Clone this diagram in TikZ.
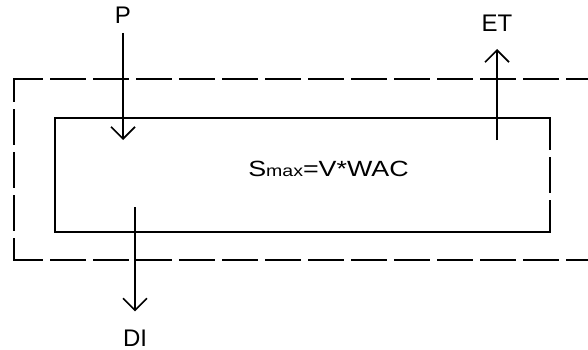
\documentclass[tikz,border=0pt]{standalone}
\usepackage{fontspec}
\setmainfont{Liberation Sans}
\usetikzlibrary{arrows.meta}
\begin{document}
\begin{tikzpicture}[x=1pt,y=-1pt,line width=2pt,
  flow/.style={-{Straight Barb[length=12pt,width=24pt,line width=1.7pt]},line width=1.7pt},
  lbl/.style={font=\fontsize{24}{28}\selectfont,inner sep=0pt,anchor=base},
  bdash/.style={dash pattern=on 34pt off 9pt,line cap=rect}]
\useasboundingbox (0,0) rectangle (588,350);
\clip (0,0) rectangle (588,350);
% outer dashed boundary (open on the right)
\draw[bdash,dash phase=6pt] (14,79) -- (600,79);
\draw[bdash,dash phase=12pt] (14,79) -- (14,260);
\draw[bdash,dash phase=6pt] (14,260) -- (600,260);
% inner store box
\draw[line join=miter] (55,118) rectangle (550,232);
\draw[white,line width=2.8pt] (550,150) -- (550,157);
\draw[white,line width=2.8pt] (550,193) -- (550,200);
% labels
\node[lbl] (P) at (123,24) {P};
\node[lbl] (ET) at (497,32) {ET};
\node[lbl] (DI) at (135,346) {DI};
\node[inner sep=0pt,anchor=base] (S) at (328.5,176)
  {\scalebox{1.22}[1]{\fontsize{22}{26}\selectfont S{\fontsize{16}{19}\selectfont max}=V*WAC}};
% fluxes
\coordinate (pend) at (123,140);
\coordinate (etstart) at (497,140);
\coordinate (distart) at (135,207);
\draw[flow,shorten <=8pt] (P.south) -- (pend);
\draw[flow,shorten >=16pt] (etstart) -- (ET.south);
\draw[flow,shorten >=17pt] (distart) -- (DI.north);
\end{tikzpicture}
\end{document}
